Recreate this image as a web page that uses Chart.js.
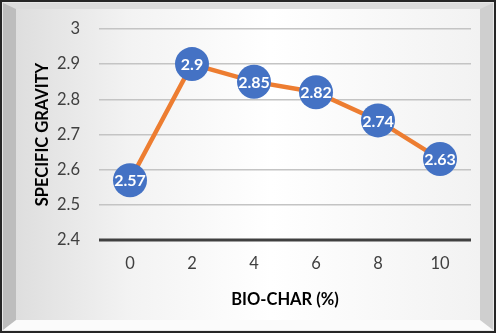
<!DOCTYPE html>
<html><head><meta charset="utf-8">
<script src="https://cdn.jsdelivr.net/npm/chart.js@4"></script>
<style>
html,body{margin:0;padding:0;background:#fff;}
#frame{position:absolute;left:0;top:0;width:492px;height:329px;border:2px solid #262626;background:#e8e8e8;}
#bevel{position:absolute;left:1px;top:1px;right:1px;bottom:1px;box-sizing:border-box;
 border-style:solid;border-width:6px 13px 10px 13px;
 border-color:#dcdcdc #cfcfcf #fbfbfb #bdbdbd;
 background:linear-gradient(to right,#dedede 0%,#f3f3f3 25%,#ffffff 55%,#f2f2f2 100%);}
#wrap{position:absolute;left:0;top:0;width:496px;height:333px;}
</style></head>
<body>
<div id="frame"><div id="bevel"></div></div>
<div id="wrap"><canvas id="c" width="496" height="333"></canvas></div>
<script>
const categories = ['0','2','4','6','8','10'];
const specificGravity = [2.57, 2.9, 2.85, 2.82, 2.74, 2.63];
const yTicks = [2.4, 2.5, 2.6, 2.7, 2.8, 2.9, 3];
const xTitle = 'BIO-CHAR (%)';
const yTitle = 'SPECIFIC GRAVITY';

const FONT = 'Lato, "Open Sans", sans-serif';

const labelPlugin = {
  id: 'pointLabels',
  afterDatasetsDraw(chart) {
    const ctx = chart.ctx;
    const meta = chart.getDatasetMeta(0);
    ctx.save();
    ctx.fillStyle = '#ffffff';
    ctx.font = 'bold 16px ' + FONT;
    ctx.textAlign = 'center';
    ctx.textBaseline = 'middle';
    meta.data.forEach((pt, i) => {
      ctx.fillText(String(chart.data.datasets[0].data[i]), pt.x, pt.y + 1);
    });
    ctx.restore();
  }
};

new Chart(document.getElementById('c'), {
  type: 'line',
  data: {
    labels: categories,
    datasets: [{
      data: specificGravity,
      borderColor: '#ED7D31',
      borderWidth: 4.5,
      pointRadius: 17,
      pointHoverRadius: 17,
      pointBackgroundColor: '#4472C4',
      pointBorderColor: '#4472C4',
      pointBorderWidth: 0,
      tension: 0,
      clip: false
    }]
  },
  options: {
    responsive: false,
    animation: false,
    devicePixelRatio: 1,
    layout: { padding: { left: 33, right: 25, top: 16, bottom: 23 } },
    plugins: { legend: { display: false }, tooltip: { enabled: false } },
    scales: {
      x: {
        offset: true,
        grid: { display: false, drawTicks: false },
        border: { display: false },
        ticks: { color: '#404040', font: { family: FONT, size: 16.5 }, padding: 14 },
        title: { display: true, text: xTitle, color: '#000', font: { family: FONT, size: 16.5, weight: 'bold' }, padding: { top: 4, bottom: 0 } },
        afterFit: s => { s.height = 70; }
      },
      y: {
        min: 2.4, max: 3,
        afterBuildTicks: s => { s.ticks = yTicks.map(v => ({ value: v })); },
        grid: {
          drawTicks: false,
          color: ctx => ctx.tick && ctx.tick.value === 2.4 ? 'rgba(0,0,0,0)' : '#c4c4c4',
          lineWidth: 1.5
        },
        border: { display: false },
        ticks: { color: '#404040', font: { family: FONT, size: 16.5 }, padding: 19,
          callback: v => String(Math.round(v * 10) / 10) },
        title: { display: true, text: yTitle, color: '#000', font: { family: FONT, size: 16.5, weight: 'bold' }, padding: 0 },
        afterFit: s => { s.width = 66; }
      }
    }
  },
  plugins: [{
    id: 'baseAxis',
    beforeDatasetsDraw(chart) {
      const { ctx, chartArea } = chart;
      const y = chart.scales.y.getPixelForValue(2.4);
      ctx.save();
      ctx.strokeStyle = '#404040';
      ctx.lineWidth = 3;
      ctx.beginPath();
      ctx.moveTo(chartArea.left, y);
      ctx.lineTo(chartArea.right, y);
      ctx.stroke();
      ctx.restore();
    }
  }, labelPlugin]
});
</script>
</body></html>
